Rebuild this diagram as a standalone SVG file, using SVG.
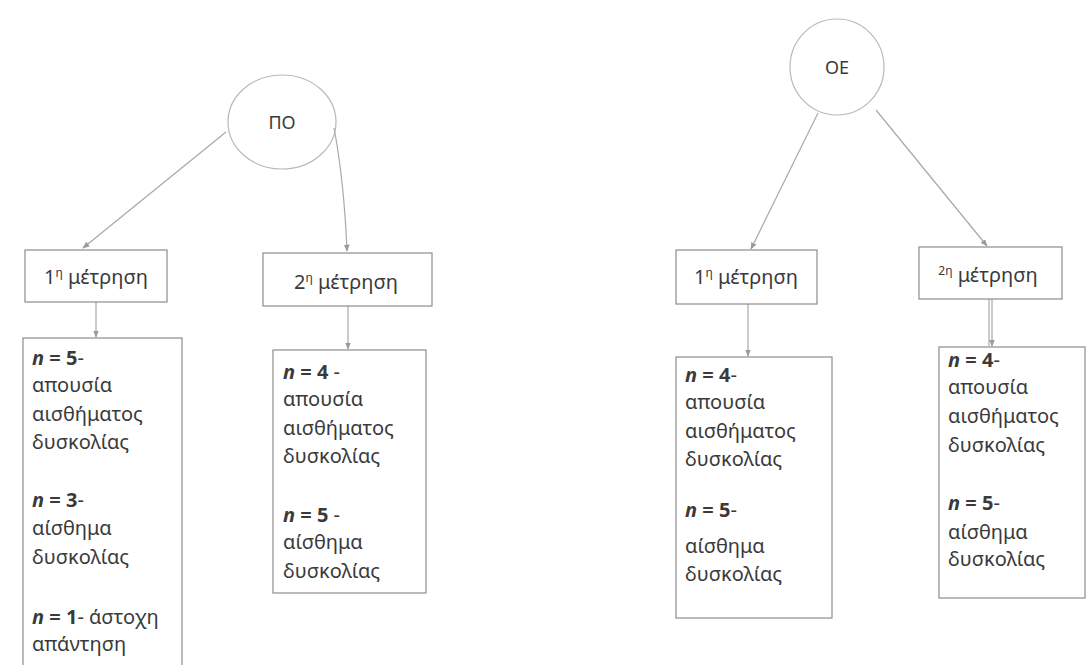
<svg xmlns="http://www.w3.org/2000/svg" width="1087" height="665" viewBox="0 0 1087 665">
  <style>
    .bg { fill: #ffffff; }
    .circle { fill: none; stroke: #b8b8b8; stroke-width: 1.2; }
    .box { fill: #ffffff; stroke: #8c8c8c; stroke-width: 1.2; }
    .edge { fill: none; stroke: #a8a8a8; stroke-width: 1.2; }
    .head { font-family: "Noto Sans", "Open Sans", sans-serif; font-size: 18px; fill: #3a3a3a; }
    .lbl { font-family: "Noto Sans", "Open Sans", sans-serif; font-size: 20px; fill: #3a3a3a; }
    .body { font-family: "Noto Sans", "Open Sans", sans-serif; font-size: 20px; fill: #3a3a3a; }
    .b { font-weight: bold; }
    .bi { font-weight: bold; font-style: italic; }
    .sup { font-size: 12px; }
  </style>
  <defs>
    <marker id="arrow" viewBox="0 0 10 10" refX="9" refY="5" markerWidth="6" markerHeight="6" orient="auto-start-reverse">
      <path d="M0,1 L10,5 L0,9 z" fill="#9a9a9a"/>
    </marker>
  </defs>

  <rect class="bg" x="0" y="0" width="1087" height="665"/>

  <!-- connectors -->
  <g id="connectors">
    <path class="edge" d="M226,132 L83,248" marker-end="url(#arrow)"/>
    <path class="edge" d="M334,128 Q344,180 347,251" marker-end="url(#arrow)"/>
    <path class="edge" d="M96,302 L96,337" marker-end="url(#arrow)"/>
    <path class="edge" d="M348,306 L348,349" marker-end="url(#arrow)"/>
    <path class="edge" d="M818,113 L751,249" marker-end="url(#arrow)"/>
    <path class="edge" d="M876,110 L987,246" marker-end="url(#arrow)"/>
    <path class="edge" d="M748,304 L748,356" marker-end="url(#arrow)"/>
    <path class="edge" d="M989,299 L989,346"/>
    <path class="edge" d="M992,299 L992,346" marker-end="url(#arrow)"/>
  </g>

  <!-- ΠΟ branch -->
  <g id="node-po">
    <ellipse class="circle" cx="282" cy="122" rx="54" ry="47"/>
    <text class="head" x="282" y="129" text-anchor="middle">ΠΟ</text>
  </g>

  <g id="node-po-m1">
    <rect class="box" x="25" y="250" width="142" height="52"/>
    <text class="lbl" x="96" y="284" text-anchor="middle">1<tspan class="sup" dy="-7">η</tspan><tspan dy="7"> μέτρηση</tspan></text>
  </g>

  <g id="node-po-m2">
    <rect class="box" x="263" y="253" width="169" height="53"/>
    <text class="lbl" x="346" y="289" text-anchor="middle">2<tspan class="sup" dy="-7">η</tspan><tspan dy="7"> μέτρηση</tspan></text>
  </g>

  <g id="node-po-m1-res">
    <rect class="box" x="23" y="338" width="159" height="340"/>
    <text class="body" x="32" y="365"><tspan class="bi">n</tspan><tspan class="b"> = 5</tspan>-</text>
    <text class="body" x="32" y="392">απουσία</text>
    <text class="body" x="32" y="421">αισθήματος</text>
    <text class="body" x="32" y="449">δυσκολίας</text>
    <text class="body" x="32" y="507"><tspan class="bi">n</tspan><tspan class="b"> = 3</tspan>-</text>
    <text class="body" x="32" y="535">αίσθημα</text>
    <text class="body" x="32" y="564">δυσκολίας</text>
    <text class="body" x="32" y="624"><tspan class="bi">n</tspan><tspan class="b"> = 1</tspan>- άστοχη</text>
    <text class="body" x="32" y="651">απάντηση</text>
  </g>

  <g id="node-po-m2-res">
    <rect class="box" x="273" y="350" width="153" height="243"/>
    <text class="body" x="283" y="379"><tspan class="bi">n</tspan><tspan class="b"> = 4</tspan> -</text>
    <text class="body" x="283" y="406">απουσία</text>
    <text class="body" x="283" y="435">αισθήματος</text>
    <text class="body" x="283" y="463">δυσκολίας</text>
    <text class="body" x="283" y="522"><tspan class="bi">n</tspan><tspan class="b"> = 5</tspan> -</text>
    <text class="body" x="283" y="549">αίσθημα</text>
    <text class="body" x="283" y="578">δυσκολίας</text>
  </g>

  <!-- ΟΕ branch -->
  <g id="node-oe">
    <ellipse class="circle" cx="837" cy="67" rx="47" ry="48"/>
    <text class="head" x="837" y="74" text-anchor="middle">ΟΕ</text>
  </g>

  <g id="node-oe-m1">
    <rect class="box" x="676" y="250" width="141" height="54"/>
    <text class="lbl" x="746" y="284" text-anchor="middle">1<tspan class="sup" dy="-7">η</tspan><tspan dy="7"> μέτρηση</tspan></text>
  </g>

  <g id="node-oe-m2">
    <rect class="box" x="919" y="247" width="143" height="52"/>
    <text class="lbl" x="988" y="282" text-anchor="middle"><tspan class="sup" dy="-7">2η</tspan><tspan dy="7"> μέτρηση</tspan></text>
  </g>

  <g id="node-oe-m1-res">
    <rect class="box" x="676" y="357" width="156" height="261"/>
    <text class="body" x="685" y="382"><tspan class="bi">n</tspan><tspan class="b"> = 4</tspan>-</text>
    <text class="body" x="685" y="409">απουσία</text>
    <text class="body" x="685" y="438">αισθήματος</text>
    <text class="body" x="685" y="466">δυσκολίας</text>
    <text class="body" x="685" y="517"><tspan class="bi">n</tspan><tspan class="b"> = 5</tspan>-</text>
    <text class="body" x="685" y="553">αίσθημα</text>
    <text class="body" x="685" y="581">δυσκολίας</text>
  </g>

  <g id="node-oe-m2-res">
    <rect class="box" x="939" y="347" width="146" height="251"/>
    <text class="body" x="948" y="367"><tspan class="bi">n</tspan><tspan class="b"> = 4</tspan>-</text>
    <text class="body" x="948" y="394">απουσία</text>
    <text class="body" x="948" y="423">αισθήματος</text>
    <text class="body" x="948" y="452">δυσκολίας</text>
    <text class="body" x="948" y="510"><tspan class="bi">n</tspan><tspan class="b"> = 5</tspan>-</text>
    <text class="body" x="948" y="539">αίσθημα</text>
    <text class="body" x="948" y="566">δυσκολίας</text>
  </g>
</svg>
